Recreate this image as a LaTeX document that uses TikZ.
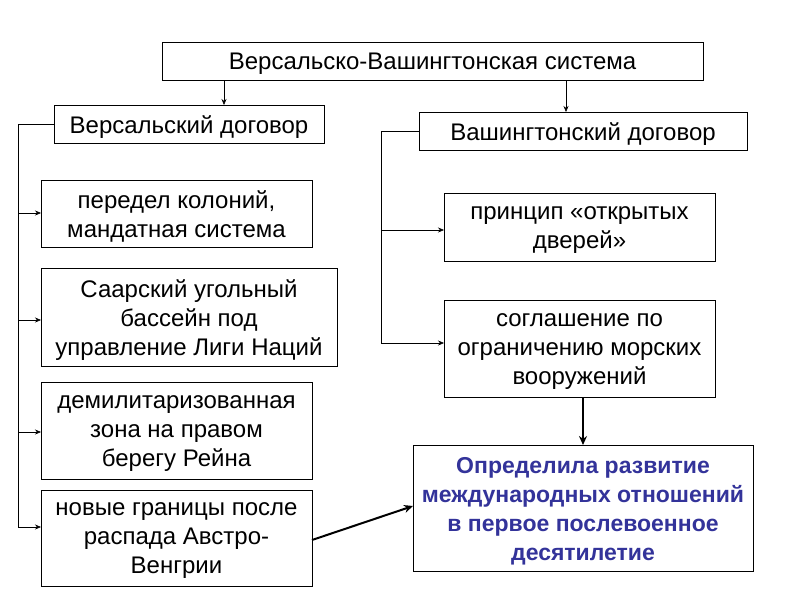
\documentclass[tikz,border=0pt]{standalone}
\usepackage{fontspec}
\setmainfont{Liberation Sans}
\usetikzlibrary{arrows.meta}
\definecolor{resc}{HTML}{33339A}
\begin{document}
\begin{tikzpicture}[x=1pt,y=-1pt,
 ar/.style={-{Stealth[length=6pt,width=5pt]},line width=0.6pt}]
\useasboundingbox (0,0) rectangle (800,600);
\fill[white] (0,0) rectangle (800,600);
\newcommand\bxx[6]{\draw[line width=0.8pt] (#2,#3) rectangle (#4,#5);
 \node[align=center,yshift=-3pt,font=\fontsize{24}{29}\selectfont] (#1) at ({(#2+#4)/2},{(#3+#5)/2}) {#6};}
\bxx{top}{162}{42}{703}{80}{Версальско-Вашингтонская система}
\bxx{ver}{54}{105}{324}{143}{Версальский договор}
\bxx{was}{419}{112}{747}{150}{Вашингтонский договор}
\bxx{b1}{41}{180}{312}{247}{передел колоний,\\мандатная система}
\bxx{b2}{41}{268}{337}{366}{Саарский угольный\\бассейн под\\управление Лиги Наций}
\bxx{b3}{41}{382}{312}{479}{демилитаризованная\\зона на правом\\берегу Рейна}
\bxx{b4}{41}{490}{312}{586}{новые границы после\\распада Австро-\\Венгрии}
\bxx{w1}{444}{193}{715}{261}{принцип «открытых\\дверей»}
\bxx{w2}{444}{300}{715}{397}{соглашение по\\ограничению морских\\вооружений}
\draw[line width=0.8pt] (413,445) rectangle (753,571);
\node[align=center,font=\fontsize{23}{29}\selectfont\bfseries,text=resc] (res) at (583,511) {Определила развитие\\международных отношений\\в первое послевоенное\\десятилетие};
\coordinate (rl) at (413,506); \coordinate (rt) at (583,445);
\draw[ar] (224,80) -- (224,105);
\draw[ar] (566,80) -- (566,112);
\coordinate (lt) at (18,124); \coordinate (lb) at (18,527);
\draw[line width=0.6pt] (54,124) -- (lt) -- (lb);
\foreach \y in {213,320,432,527} \draw[ar] (18,\y) -- (41,\y);
\draw[line width=0.6pt] (419,131) -- (381,131) -- (381,343);
\foreach \y in {230,343} \draw[ar] (381,\y) -- (444,\y);
\draw[-{Stealth[length=9pt,width=8pt]},line width=2pt] (583,397) -- (rt);
\draw[-{Stealth[length=9pt,width=8pt]},line width=2pt] (312,540) -- (rl);
\end{tikzpicture}
\end{document}
